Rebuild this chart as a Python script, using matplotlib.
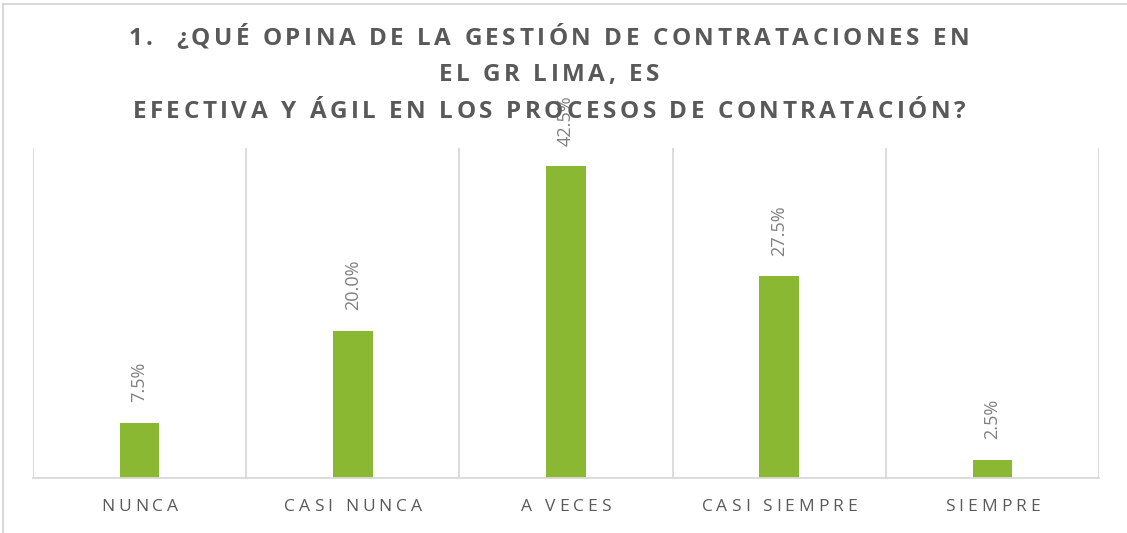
import matplotlib
matplotlib.use("Agg")
import matplotlib.pyplot as plt
from matplotlib.font_manager import FontProperties, findfont
from matplotlib.ft2font import FT2Font
from matplotlib.transforms import offset_copy, blended_transform_factory
from matplotlib.lines import Line2D

categories = ["NUNCA", "CASI NUNCA", "A VECES", "CASI SIEMPRE", "SIEMPRE"]
values = [7.5, 20.0, 42.5, 27.5, 2.5]
value_labels = ["7.5%", "20.0%", "42.5%", "27.5%", "2.5%"]
title_lines = ["1.  ¿QUÉ OPINA DE LA GESTIÓN DE CONTRATACIONES EN",
               "EL GR LIMA, ES",
               "EFECTIVA Y ÁGIL EN LOS PROCESOS DE CONTRATACIÓN?"]

W, H, DPI = 1127, 533, 100
FAMILY = "Open Sans"
BAR = "#8AB833"
GRID = "#D9D9D9"
TXT = "#595959"

fig = plt.figure(figsize=(W / DPI, H / DPI), dpi=DPI)
ax = fig.add_axes([33 / W, 1 - 478 / H, (1099 - 33) / W, (478 - 148) / H])

x = list(range(len(categories)))
ax.bar(x, values, width=0.185, color=BAR, zorder=2)
ax.set_xlim(-0.5, len(categories) - 0.5)
ax.set_ylim(0, 45)
ax.set_xticks([])
ax.set_yticks([])
for s in ["top", "right", "left"]:
    ax.spines[s].set_visible(False)
ax.spines["bottom"].set_color(GRID)
ax.spines["bottom"].set_linewidth(1.3)
for b in [i - 0.5 for i in range(len(categories) + 1)]:
    ax.axvline(b, color=GRID, lw=1.3, zorder=1)

# value labels
for xi, v, lab in zip(x, values, value_labels):
    t = offset_copy(ax.transData, fig=fig, x=0, y=15, units="points")
    ax.text(xi, v, lab, rotation=90, ha="center", va="bottom", transform=t,
            fontsize=13, color="#7F7F7F", family=FAMILY)


def advances(text, weight, size):
    fp = FontProperties(family=FAMILY, weight=weight)
    f = FT2Font(findfont(fp))
    f.set_size(size, DPI)
    out = []
    for c in text:
        g = f.load_char(ord(c))
        out.append(g.linearHoriAdvance / 65536.0)
    return out


def spaced(base_trans, xv, yv, text, size, weight, spacing_px, color):
    adv = advances(text, weight, size)
    total = sum(adv) + spacing_px * (len(text) - 1)
    pos = -total / 2.0
    for c, a in zip(text, adv):
        if c != " ":
            tr = offset_copy(base_trans, fig=fig, x=pos * 72 / DPI, y=0, units="points")
            fig.text(xv, yv, c, transform=tr, ha="left", va="baseline",
                     fontsize=size, fontweight=weight, family=FAMILY, color=color)
        pos += a + spacing_px


# category labels
bt = blended_transform_factory(ax.transData, fig.transFigure)
for xi, c in zip(x, categories):
    spaced(bt, xi, 1 - 511 / H, c, 12.5, "normal", 4.0, TXT)

# title
for line, base in zip(title_lines, [45, 81, 118]):
    spaced(fig.transFigure, 549 / W, 1 - base / H, line, 17.5, "bold", 3.5, TXT)

# chart frame (top and left)
fig.add_artist(Line2D([3 / W, 1], [1 - 4 / H, 1 - 4 / H], transform=fig.transFigure, color=GRID, lw=1.5))
fig.add_artist(Line2D([3 / W, 3 / W], [0, 1 - 4 / H], transform=fig.transFigure, color=GRID, lw=1.5))

fig.savefig("out.png", dpi=DPI)
